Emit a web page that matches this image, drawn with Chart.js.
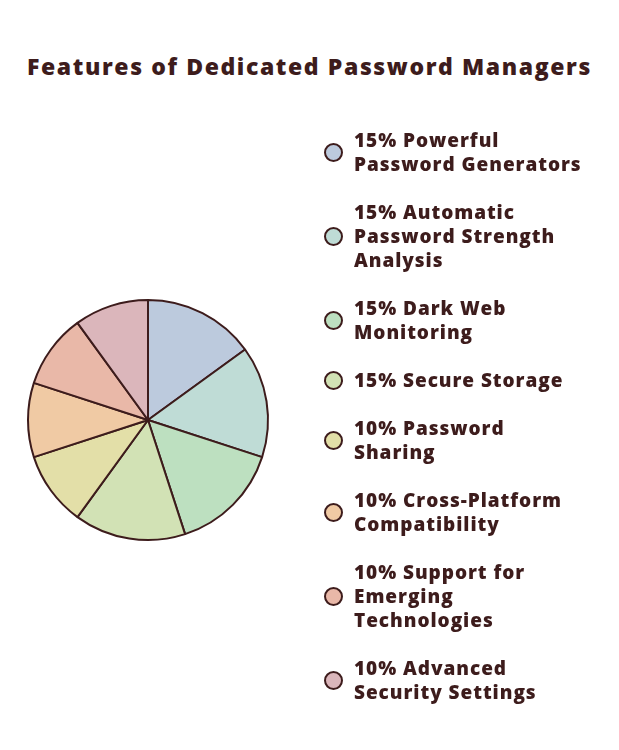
<!DOCTYPE html>
<html><head><meta charset="utf-8">
<script src="https://cdn.jsdelivr.net/npm/chart.js@4.4.0/dist/chart.umd.min.js"></script>
<style>
html,body{margin:0;padding:0;background:#fff;}
#wrap{position:relative;width:619px;height:750px;overflow:hidden;font-family:"Open Sans",sans-serif;color:#3d1c1c;}
#title{position:absolute;left:0;top:50px;width:619px;text-align:center;font-weight:800;font-size:23px;letter-spacing:1.6px;line-height:32px;white-space:nowrap;}
#c{position:absolute;left:0;top:0;}
#legend{position:absolute;left:322px;top:128px;width:297px;}
.item{position:relative;padding-left:32px;margin-bottom:24px;font-weight:800;font-size:19px;line-height:24px;letter-spacing:0.95px;white-space:nowrap;}
.dot{position:absolute;left:2px;top:50%;width:15px;height:15px;margin-top:-9px;border:2px solid #3d1c1c;border-radius:50%;}
</style></head>
<body><div id="wrap">
<div id="title"></div>
<canvas id="c" width="619" height="750"></canvas>
<div id="legend"></div>
</div>
<script>
const titleText = "Features of Dedicated Password Managers";
const categories = ["Powerful Password Generators","Automatic Password Strength Analysis","Dark Web Monitoring","Secure Storage","Password Sharing","Cross-Platform Compatibility","Support for Emerging Technologies","Advanced Security Settings"];
const values = [15,15,15,15,10,10,10,10];
const legendLines = [["15% Powerful","Password Generators"],["15% Automatic","Password Strength","Analysis"],["15% Dark Web","Monitoring"],["15% Secure Storage"],["10% Password","Sharing"],["10% Cross-Platform","Compatibility"],["10% Support for","Emerging","Technologies"],["10% Advanced","Security Settings"]];
const colors = ["#bccadd","#bfdcd6","#bde0c0","#d2e2b5","#e3dfa8","#f0caa4","#e9b8a8","#dbb6bb"];
const ink = "#3d1c1c";

document.getElementById('title').textContent = titleText;
const lg = document.getElementById('legend');
legendLines.forEach((lines,i)=>{
  const d=document.createElement('div');d.className='item';
  const dot=document.createElement('span');dot.className='dot';dot.style.background=colors[i];
  d.appendChild(dot);
  lines.forEach((t,j)=>{ if(j) d.appendChild(document.createElement('br')); d.appendChild(document.createTextNode(t)); });
  lg.appendChild(d);
});

new Chart(document.getElementById('c'),{
  type:'pie',
  data:{labels:categories,datasets:[{data:values,backgroundColor:colors,borderColor:ink,borderWidth:2}]},
  options:{
    responsive:false,animation:false,
    layout:{padding:{left:27,right:350,top:299,bottom:209}},
    plugins:{legend:{display:false},tooltip:{enabled:false},title:{display:false}}
  }
});
</script>
</body></html>
